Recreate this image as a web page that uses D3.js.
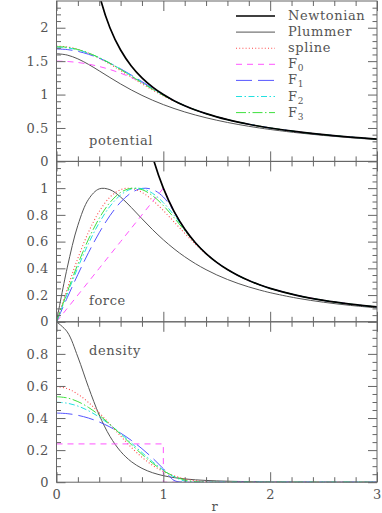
<!DOCTYPE html>
<html><head><meta charset="utf-8">
<script src="https://cdn.jsdelivr.net/npm/d3@7"></script>
<style>
body{margin:0;background:#fff}
svg{display:block}
text{font-family:"DejaVu Serif",serif;font-size:13px;fill:#555;letter-spacing:0.6px}
</style>
</head><body>
<svg id="c" width="382" height="513"></svg>
<script>
// ---- data ----
const rGrid=[0,0.1,0.2,0.3,0.4,0.5,0.6,0.7,0.8,0.9,1.0,1.1,1.2,1.3,1.4,1.5,1.6,1.7,1.8,1.9,2.0,2.25,2.5,2.75,3.0];

const potNewton=[null,null,null,3.3333,2.5,2.0,1.6667,1.4286,1.25,1.1111,1.0,0.9091,0.8333,0.7692,0.7143,0.6667,0.625,0.5882,0.5556,0.5263,0.5,0.4444,0.4,0.3636,0.3333];
const potPlummer=[1.6119,1.5913,1.5341,1.4511,1.3547,1.2550,1.1586,1.0691,0.9878,0.9148,0.8497,0.7918,0.7403,0.6942,0.6530,0.6161,0.5827,0.5526,0.5252,0.5003,0.4776,0.4285,0.3882,0.3547,0.3264];
const potSpline=[1.7260,1.7136,1.6773,1.6197,1.5444,1.4562,1.3597,1.2600,1.1614,1.0674,0.9801,0.9012,0.8307,0.7686,0.7142,0.6667,0.625,0.5882,0.5556,0.5263,0.5,0.4444,0.4,0.3636,0.3333];
const potF0=[1.5,1.495,1.48,1.455,1.42,1.375,1.32,1.255,1.18,1.095,1.0,0.9091,0.8333,0.7692,0.7143,0.6667,0.625,0.5882,0.5556,0.5263,0.5,0.4444,0.4,0.3636,0.3333];
const potF1=[1.6822,1.6732,1.6465,1.6027,1.5434,1.4702,1.3855,1.2922,1.1938,1.0940,0.9975,0.9091,0.8333,0.7692,0.7143,0.6667,0.625,0.5882,0.5556,0.5263,0.5,0.4444,0.4,0.3636,0.3333];
const potF2=[1.7097,1.6993,1.6685,1.6187,1.5521,1.4716,1.3807,1.2833,1.1835,1.0853,0.9924,0.9078,0.8333,0.7692,0.7143,0.6667,0.625,0.5882,0.5556,0.5263,0.5,0.4444,0.4,0.3636,0.3333];
const potF3=[1.7181,1.7070,1.6742,1.6215,1.5516,1.4678,1.3745,1.2758,1.1761,1.0793,0.9884,0.9059,0.8328,0.7692,0.7143,0.6667,0.625,0.5882,0.5556,0.5263,0.5,0.4444,0.4,0.3636,0.3333];

const forceNewton=[null,null,null,null,null,null,null,null,1.5625,1.2346,1.0,0.8264,0.6944,0.5917,0.5102,0.4444,0.3906,0.3460,0.3086,0.2770,0.25,0.1975,0.16,0.1322,0.1111];
const forcePlummer=[0,0.4030,0.7221,0.9167,0.9945,0.9884,0.9333,0.8554,0.7710,0.6890,0.6136,0.5461,0.4868,0.4350,0.3899,0.3507,0.3166,0.2868,0.2608,0.2380,0.2178,0.1770,0.1463,0.1227,0.1043];
const forceSpline=[0,0.2466,0.4752,0.6716,0.8257,0.9318,0.9885,0.9983,0.9681,0.9088,0.8323,0.7478,0.6624,0.5813,0.5079,0.4442,0.3906,0.3460,0.3086,0.2770,0.25,0.1975,0.16,0.1322,0.1111];
const forceF0=[0,0.1,0.2,0.3,0.4,0.5,0.6,0.7,0.8,0.9,1.0,0.8264,0.6944,0.5917,0.5102,0.4444,0.3906,0.3460,0.3086,0.2770,0.25,0.1975,0.16,0.1322,0.1111];
const forceF1=[0,0.1797,0.3541,0.5181,0.6664,0.7938,0.8950,0.9648,0.9979,0.9893,0.9335,0.8254,0.6944,0.5917,0.5102,0.4444,0.3906,0.3460,0.3086,0.2770,0.25,0.1975,0.16,0.1322,0.1111];
const forceF2=[0,0.2073,0.4056,0.5861,0.7409,0.8634,0.9485,0.9931,0.9965,0.9609,0.8917,0.7977,0.6919,0.5917,0.5102,0.4444,0.3906,0.3460,0.3086,0.2770,0.25,0.1975,0.16,0.1322,0.1111];
const forceF3=[0,0.2214,0.4312,0.6187,0.7747,0.8923,0.9674,0.9988,0.9889,0.9431,0.8698,0.7793,0.6827,0.5904,0.5102,0.4444,0.3906,0.3460,0.3086,0.2770,0.25,0.1975,0.16,0.1322,0.1111];

const densPlummer=[0.9997,0.9376,0.7808,0.5912,0.4192,0.2861,0.1919,0.1283,0.0864,0.0589,0.0407,0.0286,0.0204,0.0148,0.0109,0.0082,0.0062,0.0047,0.0037,0.0029,0.0023,0.0013,0.0008,0.0005,0.0003];
const densSpline=[0.5965,0.5837,0.5488,0.4967,0.4326,0.3613,0.2880,0.2177,0.1553,0.1053,0.0673,0.0398,0.0210,0.0093,0.0031,0.0005,0,0,0,0,0,0,0,0,0];
const densF0R=[0,1,1,3];
const densF0=[0.2387,0.2387,0,0];
const densF1=[0.4310,0.4275,0.4171,0.3998,0.3755,0.3443,0.3061,0.2610,0.2090,0.1500,0.0841,0.0112,0,0,0,0,0,0,0,0,0,0,0,0,0];
const densF2=[0.4986,0.4926,0.4746,0.4453,0.4059,0.3580,0.3034,0.2448,0.1850,0.1273,0.0755,0.0339,0.0072,0,0,0,0,0,0,0,0,0,0,0,0];
const densF3=[0.5331,0.5254,0.5026,0.4660,0.4179,0.3610,0.2988,0.2351,0.1737,0.1182,0.0718,0.0368,0.0141,0.0029,0,0,0,0,0,0,0,0,0,0,0];

const seriesNames=["Newtonian","Plummer","spline","F0","F1","F2","F3"];

const xMajor=[0,1,2,3];
const xMinor=[0.2,0.4,0.6,0.8,1.2,1.4,1.6,1.8,2.2,2.4,2.6,2.8];
const xLabels=["0","1","2","3"];
const potMajor=[0,0.5,1,1.5,2];
const potMinor=[0.1,0.2,0.3,0.4,0.6,0.7,0.8,0.9,1.1,1.2,1.3,1.4,1.6,1.7,1.8,1.9,2.1,2.2,2.3];
const potLabels=["0","0.5","1","1.5","2"];
const forceMajor=[0,0.2,0.4,0.6,0.8,1.0];
const forceMinor=[0.05,0.1,0.15,0.25,0.3,0.35,0.45,0.5,0.55,0.65,0.7,0.75,0.85,0.9,0.95,1.05,1.1,1.15];
const forceLabels=["0","0.2","0.4","0.6","0.8","1"];
const densMajor=[0,0.2,0.4,0.6,0.8];
const densMinor=[0.05,0.1,0.15,0.25,0.3,0.35,0.45,0.5,0.55,0.65,0.7,0.75,0.85,0.9,0.95];
const densLabels=["0","0.2","0.4","0.6","0.8"];

// ---- styles ----
const style={
  Newtonian:{stroke:"#000",width:1.7,dash:null},
  Plummer:{stroke:"#555",width:1,dash:null},
  spline:{stroke:"#ff4a4a",width:1.1,dash:"1,2.2"},
  F0:{stroke:"#ff55ff",width:1,dash:"6,5"},
  F1:{stroke:"#5555ff",width:1,dash:"16,6"},
  F2:{stroke:"#22e0e0",width:1,dash:"6,2.5,1.5,2.5"},
  F3:{stroke:"#3ee03e",width:1,dash:"10,2.5,1.5,2.5"}
};

const L=56.5,R=377,T0=1,PH=160.4;
const x=d3.scaleLinear().domain([0,3]).range([L,R]);
const svg=d3.select("#c");
const defs=svg.append("defs");

const zip=(rs,vs)=>rs.map((r,i)=>[r,vs[i]]);
const panels=[
  {label:"potential",labelDy:144,ymax:2.4,major:potMajor,minor:potMinor,labels:potLabels,
   series:{Newtonian:zip(rGrid,potNewton),Plummer:zip(rGrid,potPlummer),spline:zip(rGrid,potSpline),F0:zip(rGrid,potF0),F1:zip(rGrid,potF1),F2:zip(rGrid,potF2),F3:zip(rGrid,potF3)},linear:{}},
  {label:"force",labelDy:144,ymax:1.2,major:forceMajor,minor:forceMinor,labels:forceLabels,
   series:{Newtonian:zip(rGrid,forceNewton),Plummer:zip(rGrid,forcePlummer),spline:zip(rGrid,forceSpline),F0:zip(rGrid,forceF0),F1:zip(rGrid,forceF1),F2:zip(rGrid,forceF2),F3:zip(rGrid,forceF3)},linear:{F0:true}},
  {label:"density",labelDy:33,ymax:1.0,major:densMajor,minor:densMinor,labels:densLabels,
   series:{Plummer:zip(rGrid,densPlummer),spline:zip(rGrid,densSpline),F0:zip(densF0R,densF0),F1:zip(rGrid,densF1),F2:zip(rGrid,densF2),F3:zip(rGrid,densF3)},linear:{F0:true}}
];

function axis(g,gen,tr,keepText){
  const a=g.append("g").attr("transform",tr).call(gen);
  a.attr("font-family",null).attr("font-size",null);
  a.select(".domain").remove();
  a.selectAll("line").attr("stroke","#666").attr("stroke-width",1);
  if(!keepText) a.selectAll("text").remove();
  else a.selectAll("text").attr("fill",null);
  return a;
}

const drawOrder=["Plummer","spline","F0","F1","F2","F3","Newtonian"];

panels.forEach((p,i)=>{
  const top=T0+i*PH, bot=top+PH;
  const y=d3.scaleLinear().domain([0,p.ymax]).range([bot,top]);
  const g=svg.append("g");
  defs.append("clipPath").attr("id","clip"+i).append("rect")
    .attr("x",L).attr("y",top).attr("width",R-L).attr("height",PH);

  const curves=g.append("g").attr("clip-path","url(#clip"+i+")");
  drawOrder.forEach(name=>{
    const d=p.series[name]; if(!d) return;
    const s=style[name];
    const line=d3.line().defined(v=>v[1]!=null).x(v=>x(v[0])).y(v=>y(v[1]))
      .curve(p.linear[name]?d3.curveLinear:d3.curveCatmullRom.alpha(0.5));
    curves.append("path").attr("d",line(d)).attr("fill","none")
      .attr("stroke",s.stroke).attr("stroke-width",s.width)
      .attr("stroke-dasharray",s.dash);
  });

  // frame
  g.append("rect").attr("x",L).attr("y",top).attr("width",R-L).attr("height",PH)
    .attr("fill","none").attr("stroke","#666").attr("stroke-width",1);

  // x ticks bottom / top
  axis(g,d3.axisBottom(x).tickValues(xMinor).tickSize(-5).tickFormat(""),`translate(0,${bot})`);
  axis(g,d3.axisBottom(x).tickValues(xMajor).tickSize(-10).tickPadding(7.6).tickFormat((d,k)=>xLabels[k]),`translate(0,${bot})`,i===2);
  axis(g,d3.axisTop(x).tickValues(xMinor).tickSize(-5).tickFormat(""),`translate(0,${top})`);
  axis(g,d3.axisTop(x).tickValues(xMajor).tickSize(-10).tickFormat(""),`translate(0,${top})`);
  // y ticks left / right
  axis(g,d3.axisLeft(y).tickValues(p.minor).tickSize(-4.5).tickFormat(""),`translate(${L},0)`);
  axis(g,d3.axisLeft(y).tickValues(p.major).tickSize(-9).tickPadding(7.5).tickFormat((d,k)=>p.labels[k]),`translate(${L},0)`,true);
  axis(g,d3.axisRight(y).tickValues(p.minor).tickSize(-4.5).tickFormat(""),`translate(${R},0)`);
  axis(g,d3.axisRight(y).tickValues(p.major).tickSize(-9).tickFormat(""),`translate(${R},0)`);

  g.append("text").attr("x",89).attr("y",top+p.labelDy).text(p.label);

  if(i===0){
    const lg=g.append("g");
    seriesNames.forEach((name,k)=>{
      const ly=16+k*16.1;
      const s=style[name];
      lg.append("line").attr("x1",236).attr("x2",275).attr("y1",ly).attr("y2",ly)
        .attr("stroke",s.stroke).attr("stroke-width",s.width).attr("stroke-dasharray",s.dash);
      const t=lg.append("text").attr("x",288).attr("y",ly+4);
      if(name[0]==="F"&&name.length===2){
        t.append("tspan").text("F");
        t.append("tspan").style("font-size","9px").attr("dy",3).text(name[1]);
      } else t.text(name);
    });
  }
  if(i===2){
    g.append("text").attr("x",215).attr("y",511).attr("text-anchor","middle").text("r");
  }
});
</script>
</body></html>
